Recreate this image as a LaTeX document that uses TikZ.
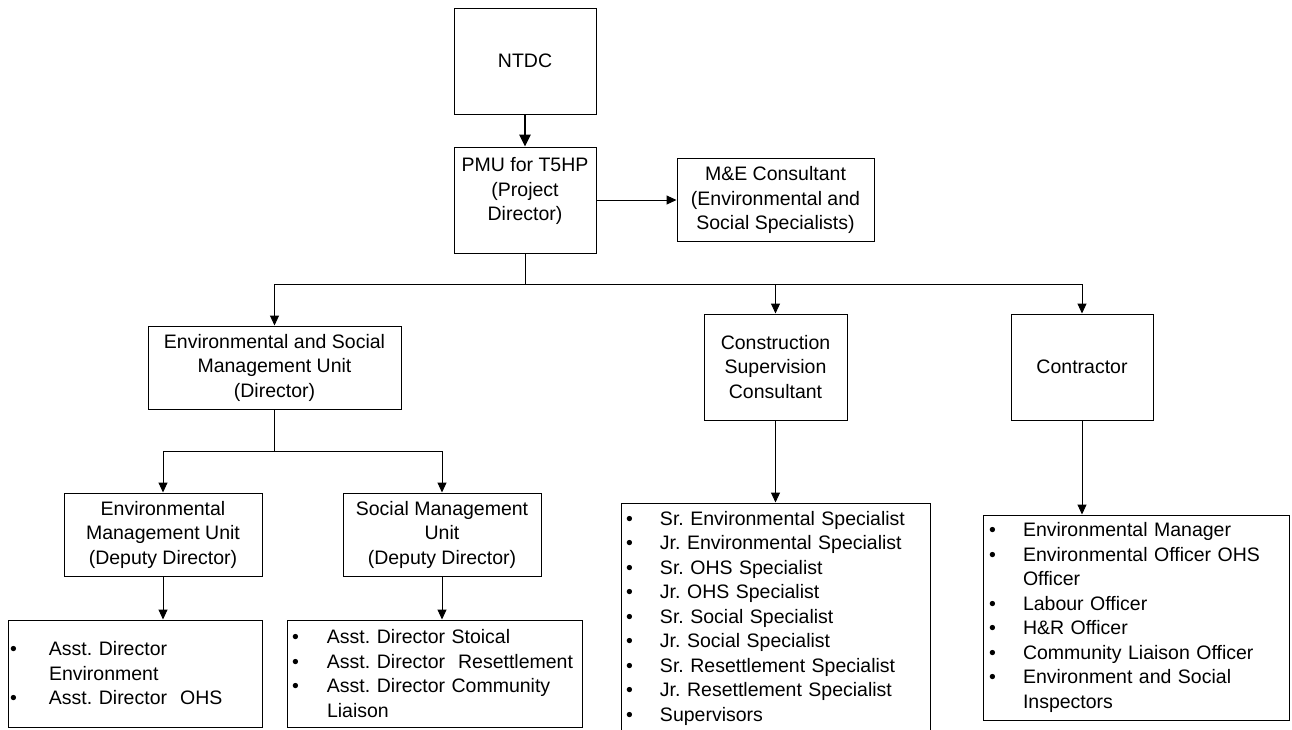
\documentclass[tikz,border=0pt]{standalone}
\usepackage{fontspec}
\setmainfont{Liberation Sans}
\usetikzlibrary{arrows.meta}
\frenchspacing
\newcommand{\li}[2][35pt]{\makebox[#1][l]{\textbullet}#2}
\newcommand{\lc}[2][35pt]{\hspace*{#1}#2}

\begin{document}
\begin{tikzpicture}[x=1pt, y=-1pt,
        unit/.style={rectangle, draw=black, line width=1pt, inner sep=0pt, align=center, font=\fontsize{19.5pt}{24.5pt}\selectfont},
        list/.style={rectangle, draw=black, line width=1pt, inner ysep=0pt, inner xsep=5pt, align=left, font=\fontsize{19.5pt}{24.5pt}\selectfont},
        arrow/.style={-{Triangle[length=10pt, width=9pt]}, line width=1pt},
        thickarrow/.style={-{Triangle[length=12pt, width=11pt]}, line width=2.5pt}
      ]
      \useasboundingbox (0,0) rectangle (1292,729);
      \clip (0,0) rectangle (1292,729);

      % top levels
      \node[unit, minimum width=142pt, minimum height=106pt] (ntdc) at (525,61) {NTDC};
      \node[unit, minimum width=142pt, minimum height=106pt, text depth=22pt] (pmu) at (525,200) {PMU for T5HP\\(Project\\Director)};
      \node[unit, minimum width=197pt, minimum height=83pt] (me) at (775.5,200) {M\&E Consultant\\(Environmental and\\Social Specialists)};

      % second level
      \node[unit, minimum width=253pt, minimum height=83pt] (esmu) at (274.5,367.5) {Environmental and Social\\Management Unit\\(Director)};
      \node[unit, minimum width=143pt, minimum height=106pt] (csc) at (775.5,367) {Construction\\Supervision\\Consultant};
      \node[unit, minimum width=142pt, minimum height=106pt] (con) at (1082,367) {Contractor};

      % units under ESMU
      \node[unit, minimum width=198pt, minimum height=83pt] (emu) at (163,534.5) {Environmental\\Management Unit\\(Deputy Director)};
      \node[unit, minimum width=198pt, minimum height=83pt] (smu) at (442,534.5) {Social Management\\Unit\\(Deputy Director)};

      % staff lists
      \node[list, inner xsep=2pt, text width=250pt, minimum height=107pt] (emul) at (135,673.5) {\li[39pt]{Asst. Director}\\\lc[39pt]{Environment}\\\li[39pt]{Asst. Director\ \ OHS}};
      \node[list, text width=285pt, minimum height=107pt] (smul) at (434.5,673.5) {\li{Asst. Director Stoical}\\\li{Asst. Director\ \ Resettlement}\\\li{Asst. Director Community}\\\lc{Liaison}};
      \node[list, text width=299pt, minimum height=230pt] (cscl) at (775.5,618) {\li[34pt]{Sr. Environmental Specialist}\\\li[34pt]{Jr. Environmental Specialist}\\\li[34pt]{Sr. OHS Specialist}\\\li[34pt]{Jr. OHS Specialist}\\\li[34pt]{Sr. Social Specialist}\\\li[34pt]{Jr. Social Specialist}\\\li[34pt]{Sr. Resettlement Specialist}\\\li[34pt]{Jr. Resettlement Specialist}\\\li[34pt]{Supervisors}};
      \node[list, inner xsep=6pt, text width=294pt, minimum height=205pt] (conl) at (1136,617.5) {\li[34pt]{Environmental Manager}\\\li[34pt]{Environmental Officer OHS}\\\lc[34pt]{Officer}\\\li[34pt]{Labour Officer}\\\li[34pt]{H\&R Officer}\\\li[34pt]{Community Liaison Officer}\\\li[34pt]{Environment and Social}\\\lc[34pt]{Inspectors}};

      % connectors
      \draw[thickarrow] (ntdc) -- (pmu);
      \draw[arrow] (pmu) -- (me);
      \coordinate (bus) at (525,284);
      \draw[line width=1pt] (pmu) -- (bus);
      \foreach \n in {esmu, csc, con}
         \draw[arrow] (bus) -| (\n);
      \coordinate (esbus) at (274.5,451);
      \draw[line width=1pt] (esmu) -- (esbus);
      \foreach \n in {emu, smu}
         \draw[arrow] (esbus) -| (\n);
      \foreach \a/\b in {emu/emul, smu/smul, csc/cscl, con/conl}
         \draw[arrow] (\a) -- (\a |- \b.north);
    \end{tikzpicture}
\end{document}
